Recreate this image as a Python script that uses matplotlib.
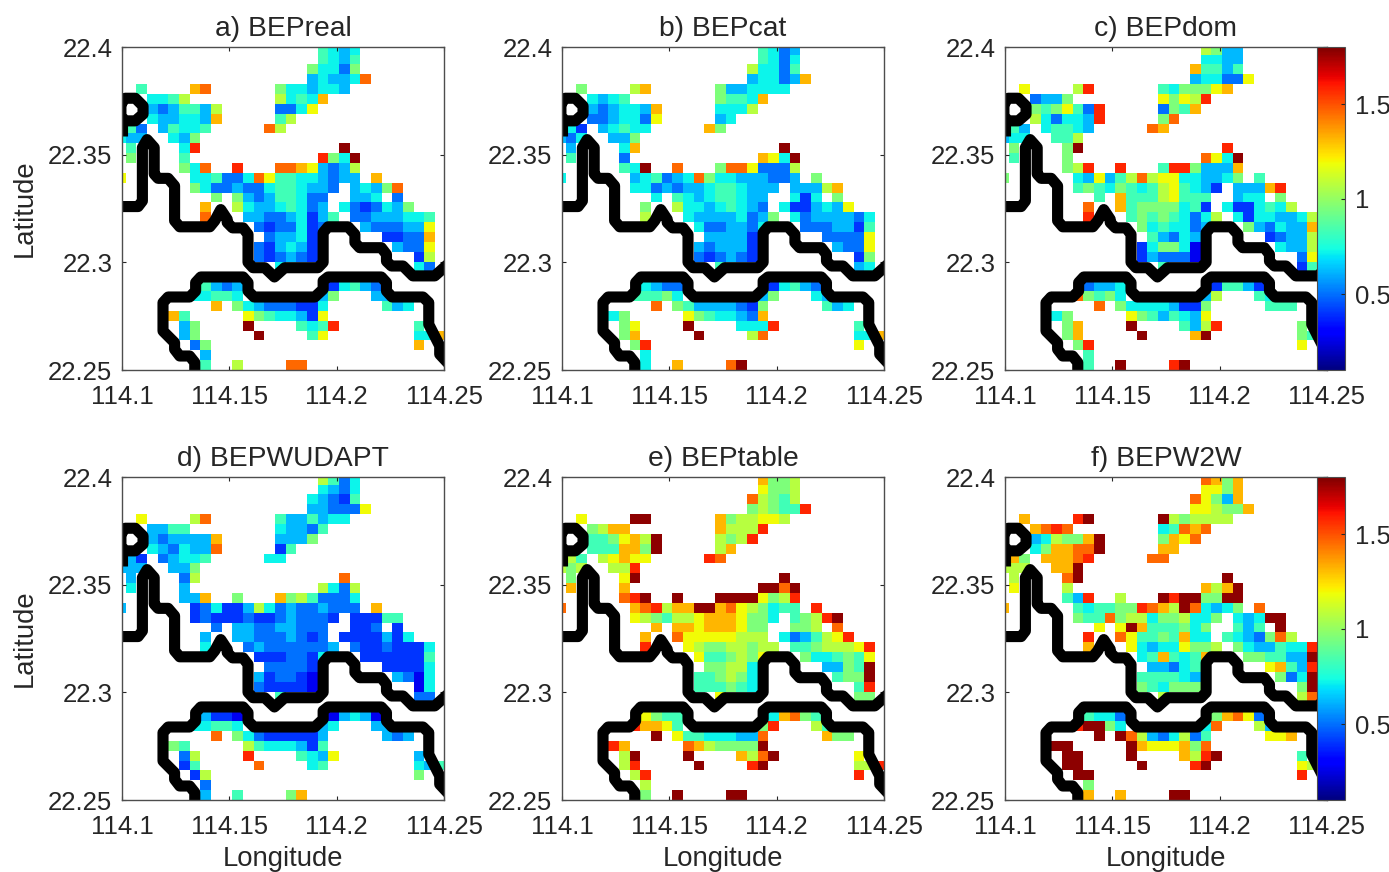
import numpy as np
import matplotlib
matplotlib.use('Agg')
import matplotlib.pyplot as plt

plt.rcParams['font.family'] = ['Liberation Sans', 'DejaVu Sans']

titles = ['a) BEPreal', 'b) BEPcat', 'c) BEPdom', 'd) BEPWUDAPT', 'e) BEPtable', 'f) BEPW2W']
lon_ticks = [114.1, 114.15, 114.2, 114.25]
lat_ticks = [22.25, 22.3, 22.35, 22.4]
cbar_ticks = [0.5, 1, 1.5]

level_chars = '0123456789abc'
level_values = [0.27, 0.40, 0.50, 0.62, 0.72, 0.83, 0.95, 1.07, 1.19, 1.32, 1.46, 1.58, 1.78]

# urban columns in every grid row, top row first (start, end)
land_cols = [
    [(19, 22)], [(19, 22)], [(18, 22)], [(18, 23)],
    [(2, 2), (7, 8), (15, 21)],
    [(3, 6), (15, 19)],
    [(3, 9), (15, 18)],
    [(3, 9), (15, 16)],
    [(1, 2), (4, 8), (14, 15)],
    [(0, 2), (5, 7)],
    [(1, 1), (6, 7), (21, 21)],
    [(1, 1), (6, 6), (19, 22)],
    [(6, 8), (11, 11), (15, 22)],
    [(0, 0), (7, 22), (24, 24)],
    [(7, 20), (22, 26)],
    [(9, 9), (11, 19), (22, 24), (26, 26)],
    [(8, 8), (11, 19), (21, 27)],
    [(8, 8), (12, 20), (22, 29)],
    [(13, 19), (23, 29)],
    [(14, 18), (25, 29)],
    [(13, 18), (26, 29)],
    [(13, 18), (28, 29)],
    [(15, 15), (28, 29)],
    [],
    [(8, 11), (20, 24)],
    [(7, 11), (19, 20), (24, 25)],
    [(9, 9), (11, 19), (25, 27)],
    [(5, 6), (12, 19)],
    [(6, 7), (12, 12), (17, 20), (28, 28)],
    [(6, 7), (13, 13), (18, 19), (28, 30)],
    [(7, 8), (28, 28)],
    [(8, 8)],
    [(8, 8), (11, 11), (16, 17)],
]

bep_real = ['5434', '5435', '64426', '34334a', '59a6443443', '445774549', '32355372248', '433443957',
            '5235445a7', '433436', '54bc', '65b64c', '64ab' + 'aa983237', '8' + '445224a855443233' + '9',
            '64223224554332' + '3436a', '6632355422' + '3342', '9743345423' + '4212436',
            'a332234135' + '22333445', '2122412' + '3222338', '23341' + '11229', '213431' + '3228',
            '212321' + '17', '442', '', '5323' + '14532', '44554' + '36' + '33', '9643222114' + '534',
            '95' + '86544318', '36c545b5', '36c58449', '269', '3', '57aa']
bep_cat = ['5423', '5424', '74425', '344239', '679' + '6334444', '4345' + '65549', '3234439' + '4447',
           '2234428' + '34', '41' + '34544' + '96', '324336', '349c', '52984c', '54ca' + '6aa82227',
           '4' + '345234a6' + '44333223' + '6', '44232334554333' + '33379', '4543455433' + '414' + '6',
           '6744345432' + '4113438', '7433334236' + '42333324', '4223324' + '2223315', '33331' + '22228',
           '323331' + '3228', '212321' + '16', '534', '', '4322' + '14532', '55564' + '36' + '43',
           'a653333216' + '534', '46' + '86544329', '68c444b5', '69c7a449', '6b8', '4', '49ac']
bep_dom = ['7633', '4433', '95535', '344228', '87b' + '5466689', '2336' + '8687b', '656852b' + '2659',
           '742443b' + '6a', '53' + '45543' + 'a9', '344557', '66cb', '56a84c', '67bb' + '5bb63339',
           '6' + '438357a788443346' + '5', '56546545785431' + '3339b', '5955578555' + '344' + '6',
           'a956666451' + '4114547', 'b565654247' + '41443347', '6454423' + '6324339', '53243' + '12337',
           '146640' + '4337', '132220' + '28', '515', '', '2334' + '15531', 'a6564' + '37' + '54',
           'a644443116' + '555', '46' + '86535438', '69c537b6', '69c9c654', '6b8', '5', '5cbc']
bep_wudapt = ['7524', '4324', '43215', '332228', '87a' + '5335344', '3355' + '43325', '3233339' + '3336',
              '432433a' + '15', '31' + '23445' + '44', '333336', '327a', '437427', '3396' + '96752224',
              '3' + '1241137423223222' + '9', '12111211232221' + '11155', '2332233222' + '112' + '1',
              '3332223212' + '1111314', '4232222223' + '21121114', '1112214' + '1111115', '22221' + '11114',
              '312210' + '3204', '211110' + '04', '522', '', '3110' + '03430', '44554' + '34' + '33',
              'a642111113' + '323', '65' + '75444315', '27b54383', '15a45435', '176', '2', '3569']
bep_table = ['9667', '8667', 'a7657', '67655b', '8cc' + '9677887', '6799' + '9777b', '556897c' + '767b',
             '555996c' + '79', '75' + '78988' + 'ba', '76777b', '68cc', '99ccac', 'abcc' + 'cccc867b',
             'a' + '9ab799cc9a876455' + 'b', '87657789998664' + '567bc', '9998999866' + '667' + 'a',
             '9a88888777' + '423578b', 'b876677677' + '5567778b', '8556768' + '6445658', '66774' + '3365c',
             '556764' + '566c', '555654' + '5b', '866', '', '8655' + '49a65', 'b9985' + '6b' + '75',
             'c85544433a' + '966', 'b9' + 'a976666c', '7cc97ac8', '7bcbc77b', '7bb', '7', '6ccc']
bep_w2w = ['a969', '8869', 'a8639', '887669', '9bc' + 'c767777', '9aba' + '45a9a', '347669c' + '698a',
           '4699aac' + '99', '96' + '999ab' + 'aa', '77799c', '7acc', '87979c', '53b7' + 'cbcc66cc',
           '9' + '545566ba97ca4346' + 'a', '655a6774667446' + '434cc', '88c9555646' + '535' + 'c',
           'ba85565944' + '54326a7', '9843448667' + '6433544b', '4595459' + '665533c', '33245' + '8953b',
           '555543' + '624c', '654666' + '6c', '77a', '', '5442' + '69a82', 'bcc64' + '4a' + '73',
           'cca7324725' + '889', 'cc' + 'c988896a', 'ccc97bc5', 'cccbc877', 'ccb', '6', '99cc']
panels = [bep_real, bep_cat, bep_dom, bep_wudapt, bep_table, bep_w2w]

# coastline, in lon/lat
coast_north_x = [114.098, 114.1075, 114.1095, 114.1095, 114.1117, 114.115, 114.115, 114.1168, 114.1215,
                 114.1245, 114.1245, 114.1269, 114.1409, 114.1432, 114.146, 114.149, 114.149, 114.1515,
                 114.1564, 114.1587, 114.1587, 114.161, 114.1665, 114.171, 114.1758, 114.1913, 114.1937,
                 114.1937, 114.196, 114.2053, 114.2085, 114.2085, 114.2107, 114.2208, 114.2232, 114.2232,
                 114.2255, 114.2309, 114.2355, 114.2457, 114.252]
coast_north_y = [22.3259, 22.3259, 22.3285, 22.3533, 22.357, 22.3533, 22.341, 22.339, 22.339, 22.3355,
                 22.3193, 22.3165, 22.3165, 22.3193, 22.3245, 22.32, 22.3185, 22.316, 22.316, 22.313,
                 22.3, 22.2975, 22.2975, 22.2932, 22.2975, 22.2975, 22.3, 22.3138, 22.3165, 22.3165,
                 22.313, 22.3092, 22.3068, 22.3068, 22.3037, 22.3005, 22.2983, 22.2983, 22.2937, 22.2937,
                 22.2993]
coast_south_x = [114.1339, 114.1339, 114.1315, 114.1269, 114.1245, 114.1245, 114.1191, 114.1191, 114.1215,
                 114.1315, 114.1343, 114.1343, 114.1367, 114.1564, 114.1587, 114.1587, 114.1615, 114.1898,
                 114.1937, 114.1937, 114.196, 114.2208, 114.2232, 114.2232, 114.2258, 114.2402, 114.2429,
                 114.2429, 114.248, 114.248, 114.2525]
coast_south_y = [22.248, 22.2535, 22.2565, 22.2565, 22.2596, 22.2627, 22.2681, 22.2813, 22.2839, 22.2839,
                 22.2867, 22.2906, 22.2932, 22.2932, 22.2906, 22.2867, 22.2839, 22.2839, 22.2875, 22.2914,
                 22.2932, 22.2932, 22.2906, 22.2867, 22.2839, 22.2839, 22.2813, 22.2712, 22.2612, 22.2573,
                 22.2525]
coast_ring_x = [114.0995, 114.1015, 114.1062, 114.1098, 114.1098, 114.1062, 114.1015, 114.0995, 114.0995]
coast_ring_y = [22.3734, 22.3762, 22.3762, 22.3726, 22.3688, 22.3657, 22.3657, 22.368, 22.3734]
coast_tail_x = [114.1, 114.1]
coast_tail_y = [22.3657, 22.3587]

# grid of the model, top rows and last column are cut by the axes
lon_edges = 114.0967 + 0.00497 * np.arange(32)
lat_edges = 22.25 + 0.004577 * np.arange(34)


def make_grid(rows):
    grid = np.full((33, 31), np.nan)
    for r, (spans, text) in enumerate(zip(land_cols, rows, strict=True)):
        cols = [c for a, b in spans for c in range(a, b + 1)]
        for c, ch in zip(cols, text, strict=True):
            grid[32 - r, c] = level_values[level_chars.index(ch)]
    return grid


W, H = 1389, 872
lefts = [122, 562, 1005]
tops = [47, 477]
text_col = (0.15, 0.15, 0.15)

fig = plt.figure(figsize=(W / 100, H / 100), dpi=100)

for i, rows in enumerate(panels):
    top = tops[i // 3]
    ax = fig.add_axes([lefts[i % 3] / W, 1 - (top + 323) / H, 322 / W, 323 / H])
    mesh = ax.pcolormesh(lon_edges, lat_edges, np.ma.masked_invalid(make_grid(rows)),
                         cmap='jet', vmin=0.1, vmax=1.8)
    for cx, cy in [(coast_north_x, coast_north_y), (coast_south_x, coast_south_y),
                   (coast_ring_x, coast_ring_y), (coast_tail_x, coast_tail_y)]:
        ax.plot(cx, cy, color='k', lw=8.0, solid_joinstyle='round', solid_capstyle='butt')
    ax.set_xlim(114.1, 114.25)
    ax.set_ylim(22.25, 22.4)
    ax.set_xticks(lon_ticks)
    ax.set_yticks(lat_ticks)
    ax.set_xticklabels(['%g' % t for t in lon_ticks])
    ax.set_yticklabels(['%g' % t for t in lat_ticks])
    ax.tick_params(direction='in', top=True, right=True, length=3, width=0.8, colors=text_col,
                   labelsize=18.5)
    ax.tick_params(axis='x', pad=11)
    ax.tick_params(axis='y', pad=7)
    for s in ax.spines.values():
        s.set_color((0.3, 0.3, 0.3))
        s.set_linewidth(1.0)
    ax.set_title(titles[i], fontsize=20.3, color=text_col, pad=8)
    if i % 3 == 0:
        ax.set_ylabel('Latitude', fontsize=19.8, color=text_col, labelpad=7)
    if i >= 3:
        ax.set_xlabel('Longitude', fontsize=19.8, color=text_col, labelpad=5)
    if i % 3 == 2:
        cax = fig.add_axes([1317 / W, 1 - (top + 323) / H, 28 / W, 323 / H], zorder=5)
        cb = fig.colorbar(mesh, cax=cax)
        cb.set_ticks(cbar_ticks)
        cb.set_ticklabels(['%g' % t for t in cbar_ticks])
        cb.ax.tick_params(direction='in', length=3, width=0.8, colors=text_col, labelsize=18.5, pad=7)
        cb.outline.set_edgecolor((0.3, 0.3, 0.3))

fig.savefig('out.png', dpi=100)
